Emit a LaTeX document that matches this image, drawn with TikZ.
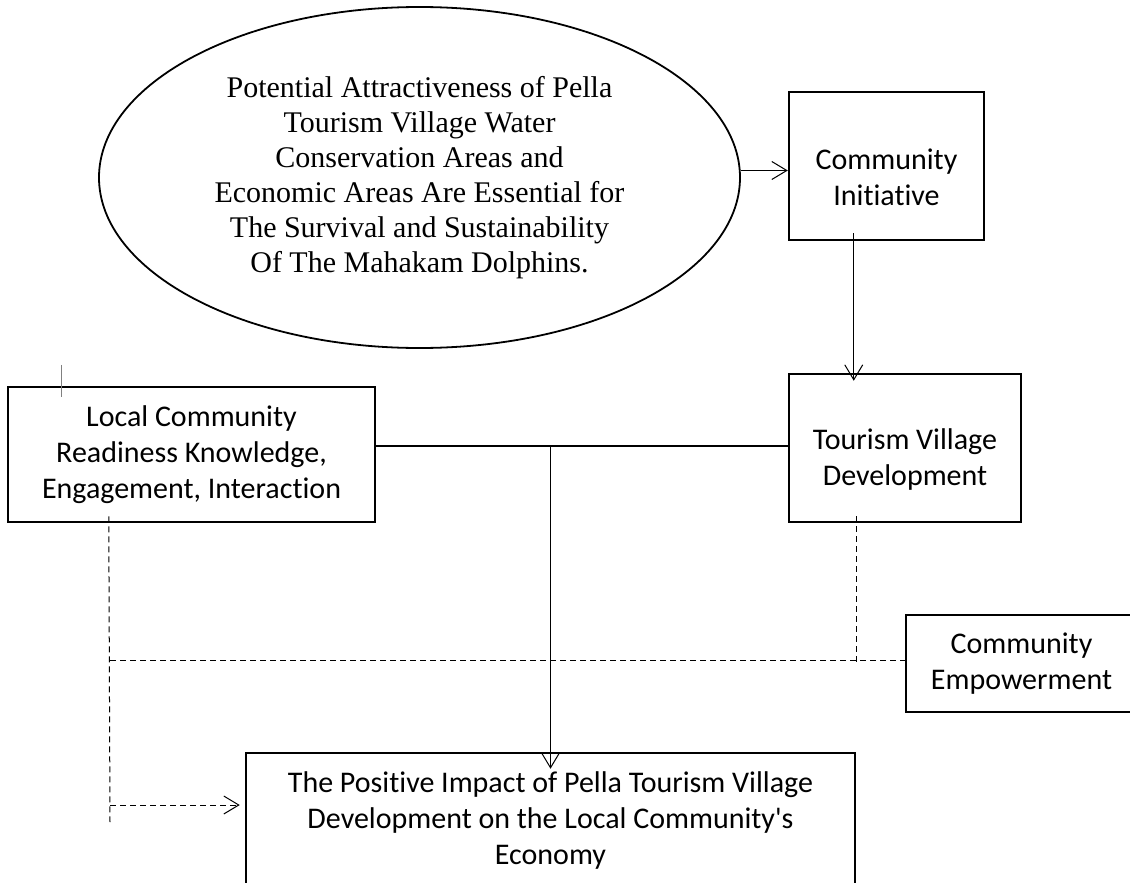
\documentclass[tikz,border=0pt]{standalone}
\usepackage{fontspec}
\setmainfont{Carlito}[Ligatures={TeXOff,CommonOff}]
\newfontfamily\serifface{Liberation Serif}
\usetikzlibrary{shapes.geometric,arrows.meta}
\tikzset{
  box/.style={rectangle,draw,line width=2.5pt,align=center,inner sep=0pt,
    font=\fontsize{30}{36}\selectfont},
  oval/.style={ellipse,draw,line width=1.8pt,align=center,inner sep=0pt,
    font=\serifface\fontsize{30}{35}\selectfont},
  link/.style={line width=1pt,-{Straight Barb[length=15pt,width=18pt,line width=1pt]}},
  dashlink/.style={line width=1pt,dash pattern=on 6pt off 4pt},
}
\newcommand{\topgap}{\rule{0pt}{44pt}}

\begin{document}
\begin{tikzpicture}[x=1pt,y=-1pt]
  \clip (0,0) rectangle (1130,883);
  \node[oval,minimum width=641,minimum height=341] (pot) at (419.5,177.5)
    {Potential Attractiveness of Pella\\Tourism Village Water\\Conservation Areas and\\
     Economic Areas Are Essential for\\The Survival and Sustainability\\Of The Mahakam Dolphins.};
  \node[box,minimum width=195,minimum height=148] (ci) at (886.5,166) {\topgap Community\\Initiative};
  \node[box,minimum width=232,minimum height=148] (tvd) at (905,448) {\topgap Tourism Village\\Development};
  \node[box,minimum width=367,minimum height=135] (lcr) at (191.5,454.5)
    {Local Community\\Readiness Knowledge,\\Engagement, Interaction};
  \node[box,minimum width=231,minimum height=97] (emp) at (1021.5,663.5) {Community\\Empowerment};
  \node[box,minimum width=609,minimum height=135] (imp) at (550.5,820.5)
    {The Positive Impact of Pella Tourism Village\\Development on the Local Community's\\Economy};

  % free ends of the dashed lines
  \coordinate (lt) at (110,660);
  \coordinate (la) at (110,805);
  \coordinate (lb) at (110,822);
  \coordinate (rt) at (856,666);

  \draw[link] ([yshift=7]pot.east) -- ([yshift=7]pot.east -| ci.west);
  \draw[link] ([xshift=66,yshift=8]ci.south west) -- ([xshift=66,yshift=-8]tvd.north west);
  \draw[line width=2.5pt] (lcr.east |- 0,446) -- (tvd.west |- 0,446);
  \draw[link] (imp.north |- 0,446) -- ([yshift=-17]imp.north);

  \draw[dashlink] ([xshift=102,yshift=7]lcr.south west) -- (lb);
  \draw[dashlink] ([yshift=7]tvd.south west -| rt) -- (rt);
  \draw[dashlink] (lt) -- (lt -| emp.west);
  \draw[dashlink,-{Straight Barb[length=15pt,width=18pt,line width=1pt]}] (la) -- ([xshift=-5]la -| imp.west);

  \draw[gray,line width=0.8pt] ([xshift=55,yshift=21]lcr.north west) -- ++(0,32);
\end{tikzpicture}
\end{document}
